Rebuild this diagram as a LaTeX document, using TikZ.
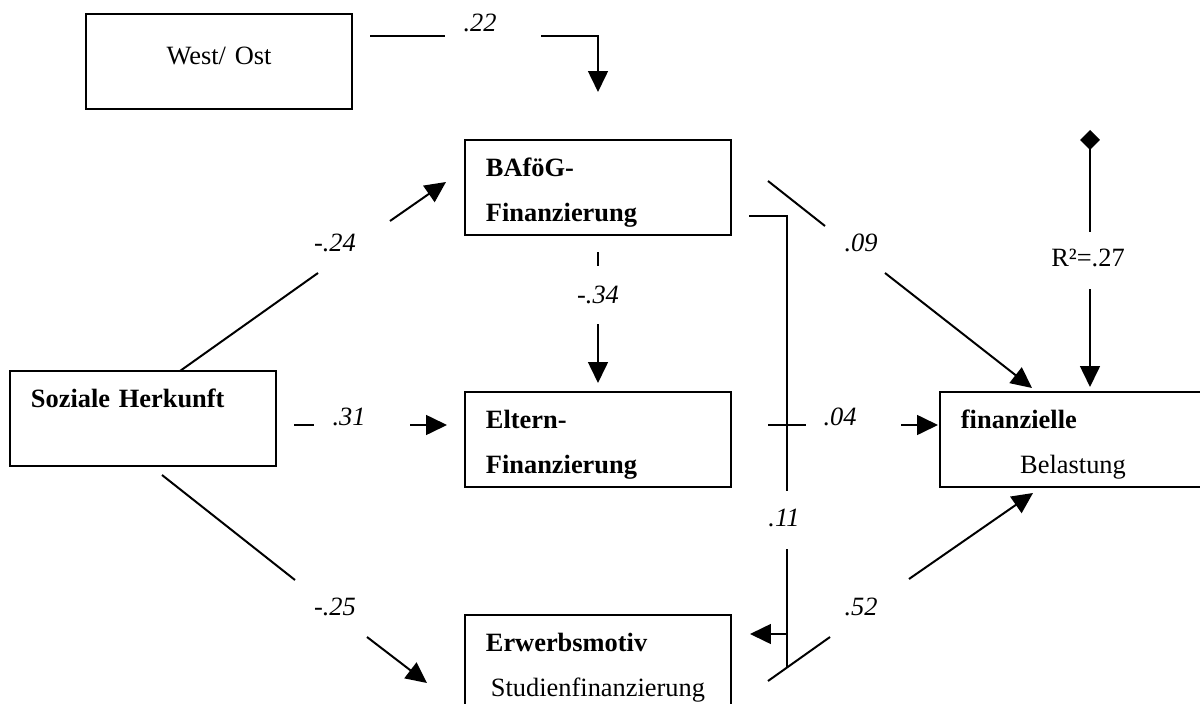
\documentclass[tikz,border=0pt]{standalone}
\usepackage{fontspec}
\setmainfont{Liberation Serif}
\usetikzlibrary{arrows.meta,positioning}

\tikzset{
  box/.style={draw, line width=0.9pt, minimum width=120.9pt, minimum height=43.2pt,
    inner xsep=9.5pt, inner ysep=0pt, text width=101.9pt, align=left, text depth=18.6pt,
    font=\fontsize{12}{20.5}\selectfont},
  coef/.style={inner sep=0pt, font=\fontsize{12}{14}\selectfont\itshape},
  rsq/.style={inner sep=0pt, font=\fontsize{12}{14}\selectfont},
  link/.style={line width=0.9pt},
  arr/.style={link, -{Triangle[length=9.5pt, width=9pt]}},
  dia/.style={link, {Diamond[length=9pt, width=9pt]}-},
}

\begin{document}
\begin{tikzpicture}[x=0.4545pt, y=-0.4545pt]
    \useasboundingbox (0,0) rectangle (1200,704);
    \clip (0,0) rectangle (1200,704);

    \node[box, align=center, text depth=5pt] (westost) at (219,61.5) {West/ Ost};
    \node[box] (bafoeg) at (598,187.5) {\textbf{BAföG-}\\\textbf{Finanzierung}};
    \node[box, below=70.4pt of bafoeg] (eltern) {\textbf{Eltern-}\\\textbf{Finanzierung}};
    \node[box, below=57.5pt of eltern] (erwerb) {\textbf{Erwerbsmotiv}\\\centerline{Studienfinanzierung}};
    \node[box, right=94.1pt of eltern] (belastung) {\textbf{finanzielle}\\\centerline{Belastung}};
    \node[box] (herkunft) at (143,418.5) {\textbf{Soziale Herkunft}\\\mbox{}};

    % path coefficients
    \node[coef] (c22) at (480,23) {.22};
    \node[coef] (c24) at (335,243) {-.24};
    \node[coef] (c31) at (349,417) {.31};
    \node[coef] (c25) at (335,607) {-.25};
    \node[coef] (c34) at (598,295) {-.34};
    \node[coef] (c09) at (861,243) {.09};
    \node[coef] (c04) at (840,417) {.04};
    \node[coef] (c11) at (784,518) {.11};
    \node[coef] (c52) at (861,607) {.52};
    \node[rsq] (rsq) at (1088,258) {R²=.27};

    % end points of the broken connectors
    \coordinate (wa) at (370,36); \coordinate (wb) at (445,36);
    \coordinate (wc) at (541,36); \coordinate (wd) at (598,36); \coordinate (we) at (598,92);
    \coordinate (ha) at (180,371); \coordinate (hb) at (318,273);
    \coordinate (hc) at (390,221); \coordinate (hd) at (446,182);
    \coordinate (ka) at (294,425); \coordinate (kb) at (314,425);
    \coordinate (kc) at (410,425); \coordinate (kd) at (447,425);
    \coordinate (ma) at (162,475); \coordinate (mb) at (295,580);
    \coordinate (mc) at (367,637); \coordinate (md) at (427,683);
    \coordinate (sa) at (598,252); \coordinate (sb) at (598,266);
    \coordinate (sc) at (598,324); \coordinate (sd) at (598,383);
    \coordinate (na) at (768,181); \coordinate (nb) at (825,226);
    \coordinate (nc) at (885,273); \coordinate (nd) at (1032,388);
    \coordinate (ra) at (1090,130); \coordinate (rb) at (1090,232);
    \coordinate (rc) at (1090,289); \coordinate (rd) at (1090,387);
    \coordinate (fa) at (768,425); \coordinate (fb) at (806,425);
    \coordinate (fc) at (901,425); \coordinate (fd) at (938,425);
    \coordinate (ea) at (749,216); \coordinate (eb) at (787,216); \coordinate (ec) at (787,491);
    \coordinate (ed) at (787,549); \coordinate (ee) at (787,668);
    \coordinate (ef) at (787,634); \coordinate (eg) at (750,634);
    \coordinate (ga) at (768,681); \coordinate (gb) at (830,637);
    \coordinate (gc) at (909,579); \coordinate (gd) at (1033,493);

    % Connect the nodes
    \draw[link] (wa) -- (wb) ; %
    \draw[arr] (wc) -- (wd) -- (we) ; %
    \draw[link] (ha) -- (hb) ; %
    \draw[arr] (hc) -- (hd) ; %
    \draw[link] (ka) -- (kb) ; %
    \draw[arr] (kc) -- (kd) ; %
    \draw[link] (ma) -- (mb) ; %
    \draw[arr] (mc) -- (md) ; %
    \draw[link] (sa) -- (sb) ; %
    \draw[arr] (sc) -- (sd) ; %
    \draw[link] (na) -- (nb) ; %
    \draw[arr] (nc) -- (nd) ; %
    \draw[dia] (ra) -- (rb) ; %
    \draw[arr] (rc) -- (rd) ; %
    \draw[link] (fa) -- (fb) ; %
    \draw[arr] (fc) -- (fd) ; %
    \draw[link] (ea) -- (eb) -- (ec) ; %
    \draw[link] (ed) -- (ee) ; %
    \draw[arr] (ef) -- (eg) ; %
    \draw[link] (ga) -- (gb) ; %
    \draw[arr] (gc) -- (gd) ; %
\end{tikzpicture}
\end{document}
